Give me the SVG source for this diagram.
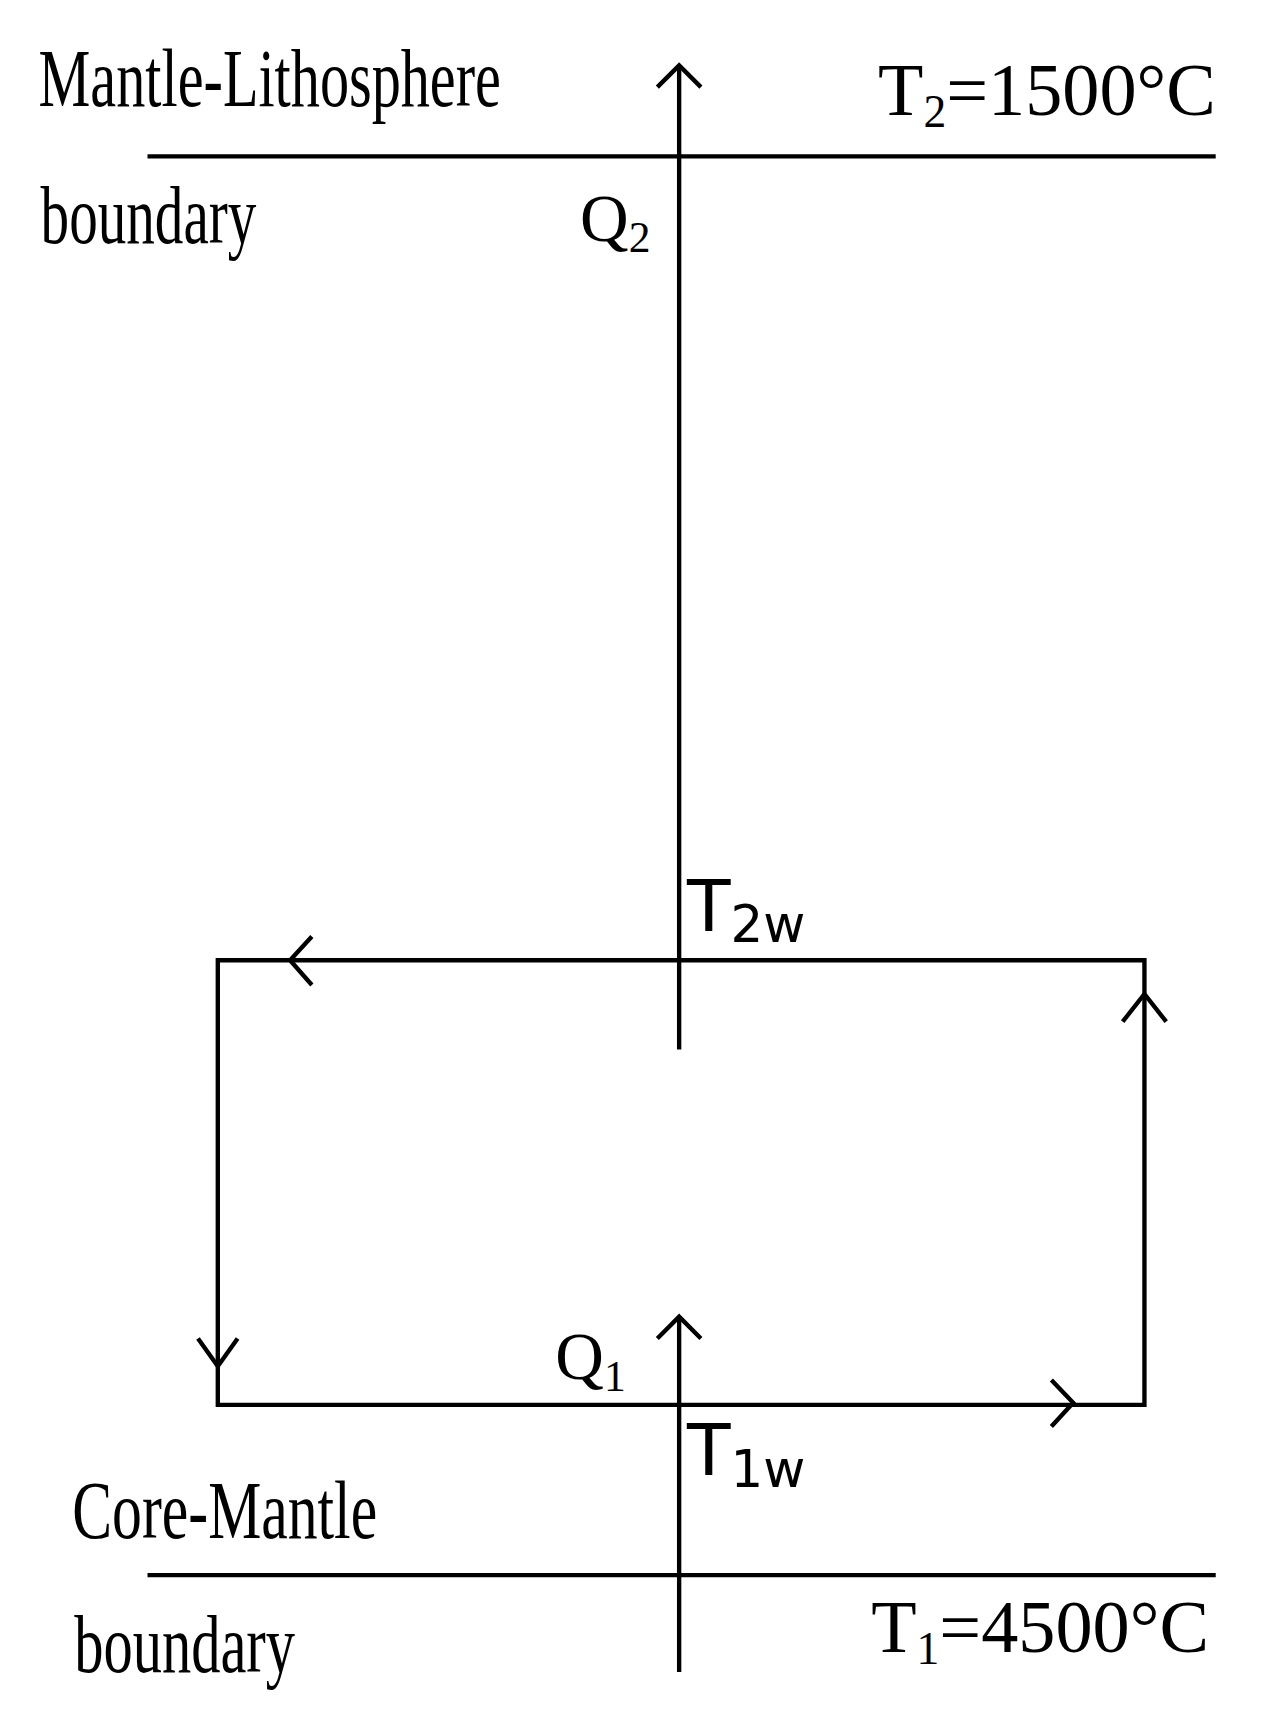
<svg xmlns="http://www.w3.org/2000/svg" width="1280" height="1713" viewBox="0 0 1280 1713">
<style>
.l{stroke:#000;stroke-width:4.4;fill:none}
.s{font-family:"Liberation Serif",serif;fill:#000}
.d{font-family:"DejaVu Sans",sans-serif;fill:#000}
</style>
<rect width="1280" height="1713" fill="#fff"/>
<g transform="scale(0.99)">
<g id="connectors">
<path class="l" d="M686 66V1060M686 1330V1689"/>
<path class="l" d="M664 88L686 66L708 88M664 1352L686 1330L708 1352"/>
<path class="l" d="M220 970H1156V1419H220Z"/>
<path class="l" d="M315 946L293 970L315 995"/>
<path class="l" d="M1134 1032L1156 1004L1178 1032"/>
<path class="l" d="M200 1352L220 1380L240 1352"/>
<path class="l" d="M1062 1394L1084 1417L1062 1441"/>
</g>
<g id="boundary-top"><path class="l" d="M149 158H1228"/>
<text class="s" x="39" y="107" font-size="83" textLength="467" lengthAdjust="spacingAndGlyphs">Mantle-Lithosphere</text>
<text class="s" x="41" y="245" font-size="83" textLength="218" lengthAdjust="spacingAndGlyphs">boundary</text>
<text class="s" x="887" y="116" font-size="75">T<tspan font-size="46" dy="12">2</tspan><tspan dy="-12">=1500°C</tspan></text>
</g>
<g id="boundary-bottom"><path class="l" d="M149 1591H1228"/>
<text class="s" x="73" y="1554" font-size="83" textLength="308" lengthAdjust="spacingAndGlyphs">Core-Mantle</text>
<text class="s" x="75" y="1689" font-size="83" textLength="223" lengthAdjust="spacingAndGlyphs">boundary</text>
<text class="s" x="880" y="1669" font-size="75">T<tspan font-size="46" dy="12">1</tspan><tspan dy="-12">=4500°C</tspan></text>
</g>
<g id="labels">
<text class="s" x="586" y="243" font-size="68">Q<tspan font-size="44" dy="12">2</tspan></text>
<text class="s" x="561" y="1393" font-size="68">Q<tspan font-size="44" dy="12">1</tspan></text>
<text class="d" x="694" y="940" font-size="72">T<tspan font-size="52" dy="12">2w</tspan></text>
<text class="d" x="694" y="1490" font-size="72">T<tspan font-size="52" dy="12">1w</tspan></text>
</g>
</g>
</svg>
